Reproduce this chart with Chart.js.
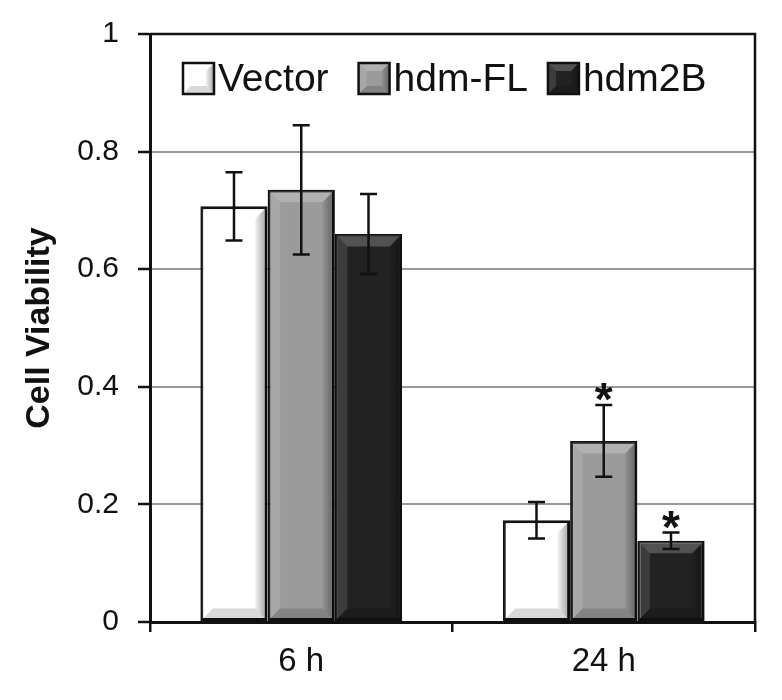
<!DOCTYPE html>
<html>
<head>
<meta charset="utf-8">
<script src="https://cdn.jsdelivr.net/npm/chart.js@4.4.1/dist/chart.umd.min.js"></script>
<style>
    html, body { margin: 0; padding: 0; background: #fff; }
    #wrap { width: 782px; height: 700px; }
</style>
</head>
<body>
<div id="wrap"><canvas id="viabilityChart" width="782" height="700"></canvas></div>
<script>
// values
const categories = ['6 h', '24 h'];
const seriesNames = ['Vector', 'hdm-FL', 'hdm2B'];
const vectorVals = [0.707, 0.173];
const vectorErr = [0.058, 0.031];
const hdmFlVals = [0.735, 0.308];
const hdmFlErr = [0.110, 0.061];
const hdm2bVals = [0.660, 0.138];
const hdm2bErr = [0.068, 0.014];
// significance marks per series, per category
const vectorSig = ['', ''];
const hdmFlSig = ['', '*'];
const hdm2bSig = ['', '*'];
const yTicks = ['0', '0.2', '0.4', '0.6', '0.8', '1'];

const FONT = '"Liberation Sans", Arial, Helvetica, sans-serif';

const fills = ['#ffffff', '#9b9b9b', '#222222'];
const errors = [vectorErr, hdmFlErr, hdm2bErr];
const sigs = [vectorSig, hdmFlSig, hdm2bSig];

// Excel-style bevel on a rectangle
function drawBevel(ctx, l, t, r, b, s, idx) {
    ctx.save();
    ctx.fillStyle = idx === 0 ? 'rgba(255,255,255,0)' : 'rgba(255,255,255,0.22)';
    ctx.beginPath();
    ctx.moveTo(l, t); ctx.lineTo(r, t); ctx.lineTo(r - s, t + s); ctx.lineTo(l + s, t + s);
    ctx.closePath(); ctx.fill();

    const g = ctx.createLinearGradient(r - s, 0, r, 0);
    g.addColorStop(0, 'rgba(0,0,0,0.05)');
    g.addColorStop(1, 'rgba(0,0,0,0.35)');
    ctx.fillStyle = g;
    ctx.beginPath();
    ctx.moveTo(r, t); ctx.lineTo(r, b); ctx.lineTo(r - s, b - s); ctx.lineTo(r - s, t + s);
    ctx.closePath(); ctx.fill();

    ctx.fillStyle = 'rgba(0,0,0,0.15)';
    ctx.beginPath();
    ctx.moveTo(l, b); ctx.lineTo(r, b); ctx.lineTo(r - s, b - s); ctx.lineTo(l + s, b - s);
    ctx.closePath(); ctx.fill();

    ctx.fillStyle = 'rgba(255,255,255,0.12)';
    ctx.beginPath();
    ctx.moveTo(l, t); ctx.lineTo(l, b); ctx.lineTo(l + s, b - s); ctx.lineTo(l + s, t + s);
    ctx.closePath(); ctx.fill();
    ctx.restore();
}

const bevelPlugin = {
    id: 'bevel',
    afterDatasetsDraw(chart) {
        const ctx = chart.ctx;
        chart.data.datasets.forEach((ds, i) => {
            chart.getDatasetMeta(i).data.forEach(bar => {
                const p = bar.getProps(['x', 'y', 'base', 'width'], true);
                const bw = 1.5;
                const l = p.x - p.width / 2 + bw, r = p.x + p.width / 2 - bw;
                const t = p.y + bw, b = p.base - bw;
                drawBevel(ctx, l, t, r, b, Math.min(11, (b - t) / 2), i);
            });
        });
    }
};

// error bars and asterisks, placed via the y scale
const errorBarPlugin = {
    id: 'errorBars',
    afterDatasetsDraw(chart) {
        const ctx = chart.ctx;
        const yScale = chart.scales.y;
        chart.data.datasets.forEach((ds, i) => {
            chart.getDatasetMeta(i).data.forEach((bar, j) => {
                const v = ds.data[j];
                const e = errors[i][j];
                const x = bar.x;
                const yTop = yScale.getPixelForValue(v + e);
                const yBot = yScale.getPixelForValue(v - e);
                const cap = 8.5;
                ctx.save();
                ctx.strokeStyle = '#111';
                ctx.lineWidth = 2.5;
                ctx.beginPath();
                ctx.moveTo(x, yTop); ctx.lineTo(x, yBot);
                ctx.moveTo(x - cap, yTop); ctx.lineTo(x + cap, yTop);
                ctx.moveTo(x - cap, yBot); ctx.lineTo(x + cap, yBot);
                ctx.stroke();
                if (sigs[i][j]) {
                    ctx.fillStyle = '#111';
                    ctx.font = 'bold 46px ' + FONT;
                    ctx.textAlign = 'center';
                    ctx.textBaseline = 'alphabetic';
                    const m = ctx.measureText(sigs[i][j]);
                    // put the bottom of the glyph a few px above the cap
                    ctx.fillText(sigs[i][j], x, yTop - 4 - m.actualBoundingBoxDescent);
                }
                ctx.restore();
            });
        });
    }
};

// frame on top/right and the legend inside the plot
const framePlugin = {
    id: 'frame',
    afterDraw(chart) {
        const { ctx, chartArea: a } = chart;
        ctx.save();
        ctx.strokeStyle = '#111';
        ctx.lineWidth = 2.5;
        ctx.beginPath();
        ctx.moveTo(a.left, a.top); ctx.lineTo(a.right, a.top); ctx.lineTo(a.right, a.bottom);
        ctx.stroke();

        // legend
        const box = 31;
        const gaps = [30, 20, 0];
        let x = a.left + 33;
        const yMid = a.top + 44.5;
        ctx.font = '39px ' + FONT;
        ctx.textBaseline = 'middle';
        ctx.textAlign = 'left';
        seriesNames.forEach((name, i) => {
            ctx.fillStyle = fills[i];
            ctx.fillRect(x, yMid - box / 2, box, box);
            drawBevel(ctx, x, yMid - box / 2, x + box, yMid + box / 2, 8, i);
            ctx.lineWidth = 2.5;
            ctx.strokeStyle = '#111';
            ctx.strokeRect(x, yMid - box / 2, box, box);
            x += box + 4;
            ctx.fillStyle = '#111';
            ctx.fillText(name, x, yMid + 2);
            x += ctx.measureText(name).width + gaps[i];
        });
        ctx.restore();
    }
};

const ctx = document.getElementById('viabilityChart');
new Chart(ctx, {
    type: 'bar',
    data: {
        labels: categories,
        datasets: [
            { label: seriesNames[0], data: vectorVals, backgroundColor: fills[0] },
            { label: seriesNames[1], data: hdmFlVals, backgroundColor: fills[1] },
            { label: seriesNames[2], data: hdm2bVals, backgroundColor: fills[2] }
        ].map(d => Object.assign(d, {
            borderColor: '#111',
            borderWidth: 3,
            borderSkipped: false,
            barPercentage: 1.0,
            categoryPercentage: 0.667
        }))
    },
    options: {
        responsive: false,
        animation: false,
        devicePixelRatio: 1,
        layout: { padding: { top: 34, right: 27, left: 0, bottom: 0 } },
        scales: {
            y: {
                min: 0,
                max: 1,
                afterFit(scale) { scale.width = 150; },
                afterBuildTicks(scale) {
                    scale.ticks = yTicks.map(t => ({ value: parseFloat(t) }));
                },
                ticks: {
                    callback: (v, idx) => yTicks[idx],
                    color: '#111',
                    font: { family: FONT, size: 30, lineHeight: 1 },
                    padding: 19
                },
                grid: {
                    color: '#9a9a9a',
                    lineWidth: 2,
                    tickColor: '#111',
                    tickLength: 12,
                    tickWidth: 2.5
                },
                border: { color: '#111', width: 3 },
                title: {
                    display: true,
                    text: 'Cell Viability',
                    color: '#111',
                    font: { family: FONT, size: 34, weight: 'bold' },
                    padding: { top: 19, bottom: 0 }
                }
            },
            x: {
                afterFit(scale) { scale.height = 78; },
                ticks: {
                    color: '#111',
                    font: { family: FONT, size: 33 },
                    padding: 10
                },
                grid: {
                    offset: true,
                    drawOnChartArea: false,
                    color: '#111',
                    tickLength: 10,
                    lineWidth: 2.5
                },
                border: { color: '#111', width: 3 }
            }
        },
        plugins: {
            legend: { display: false },
            tooltip: { enabled: false }
        }
    },
    plugins: [bevelPlugin, errorBarPlugin, framePlugin]
});
</script>
</body>
</html>
